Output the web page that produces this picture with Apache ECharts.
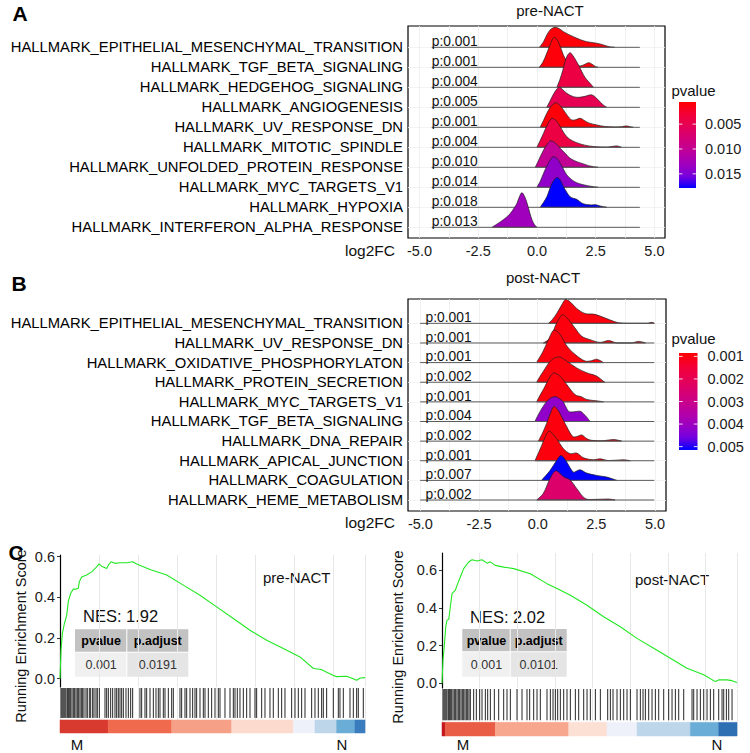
<!DOCTYPE html>
<html><head><meta charset="utf-8">
<script src="https://cdn.jsdelivr.net/npm/echarts@6/dist/echarts.min.js"></script>
<style>html,body{margin:0;padding:0;background:#fff}#c{width:750px;height:753px}</style>
</head><body><div id="c"></div>
<script>
const FONT = "'Liberation Sans', Arial, Helvetica, sans-serif";

// ---------- Panel A (pre-NACT ridges) ----------
const preNames = ['HALLMARK_EPITHELIAL_MESENCHYMAL_TRANSITION','HALLMARK_TGF_BETA_SIGNALING','HALLMARK_HEDGEHOG_SIGNALING','HALLMARK_ANGIOGENESIS','HALLMARK_UV_RESPONSE_DN','HALLMARK_MITOTIC_SPINDLE','HALLMARK_UNFOLDED_PROTEIN_RESPONSE','HALLMARK_MYC_TARGETS_V1','HALLMARK_HYPOXIA','HALLMARK_INTERFERON_ALPHA_RESPONSE'];
const prePvalues = [0.001,0.001,0.004,0.005,0.001,0.004,0.010,0.014,0.018,0.013];
const preFillP = [0.001,0.001,0.004,0.005,0.001,0.004,0.010,0.014,0.018,0.013];
const preLegendRange = [0.00055, 0.01785];
const preLegendTicks = [0.005, 0.010, 0.015];
const preLog2FCRange = [-4.48, 4.38];
// each ridge: [log2FC, density height in row units]
const preRidges = [
 [[0.11,0],[0.28,0.28],[0.42,0.62],[0.56,0.87],[0.68,0.97],[0.78,1.0],[0.95,0.93],[1.13,0.78],[1.35,0.64],[1.55,0.53],[1.85,0.38],[2.12,0.28],[2.4,0.23],[2.68,0.17],[2.9,0.09],[3.11,0.02],[3.3,0]],
 [[0.1,0],[0.25,0.25],[0.4,0.65],[0.55,1.1],[0.65,1.38],[0.73,1.5],[0.82,1.45],[0.95,1.15],[1.05,0.85],[1.13,0.6],[1.25,0.35],[1.4,0.18],[1.6,0.1],[1.85,0.07],[2.0,0.13],[2.2,0.23],[2.35,0.15],[2.5,0.03],[2.6,0]],
 [[0.85,0],[0.98,0.4],[1.1,0.85],[1.2,1.3],[1.3,1.6],[1.41,1.73],[1.52,1.6],[1.69,1.28],[1.84,0.95],[1.98,0.62],[2.12,0.38],[2.26,0.2],[2.4,0]],
 [[0.42,0],[0.55,0.3],[0.7,0.65],[0.85,0.92],[0.96,1.0],[1.1,0.88],[1.27,0.7],[1.55,0.53],[1.8,0.5],[2.05,0.55],[2.33,0.62],[2.54,0.45],[2.7,0.25],[2.82,0.12],[2.97,0]],
 [[0.14,0],[0.3,0.4],[0.42,0.7],[0.6,1.05],[0.82,1.23],[0.95,1.12],[1.13,0.87],[1.3,0.58],[1.48,0.37],[1.65,0.38],[1.84,0.45],[2.0,0.35],[2.2,0.22],[2.54,0.12],[2.9,0.04],[3.3,0.02],[3.6,0.03],[3.81,0.07],[4.0,0.02],[4.1,0]],
 [[0.0,0],[0.14,0.35],[0.28,0.7],[0.45,1.15],[0.64,1.45],[0.8,1.35],[0.99,1.03],[1.13,0.75],[1.27,0.53],[1.5,0.33],[1.84,0.17],[2.2,0.07],[2.5,0.03],[3.0,0.01],[3.39,0.07],[3.6,0]],
 [[-0.07,0],[0.07,0.35],[0.21,0.7],[0.4,1.1],[0.59,1.33],[0.8,1.2],[0.99,0.95],[1.2,0.7],[1.41,0.45],[1.7,0.28],[1.98,0.17],[2.2,0.08],[2.4,0.03],[2.6,0]],
 [[0.0,0],[0.14,0.3],[0.28,0.7],[0.48,1.2],[0.68,1.53],[0.85,1.45],[0.99,1.2],[1.13,0.9],[1.27,0.62],[1.48,0.38],[1.69,0.23],[2.0,0.12],[2.4,0.03],[2.6,0]],
 [[0.14,0],[0.28,0.25],[0.42,0.53],[0.64,1.2],[0.85,1.5],[1.0,1.35],[1.13,1.03],[1.27,0.75],[1.41,0.53],[1.55,0.45],[1.69,0.4],[1.9,0.22],[2.1,0.14],[2.33,0.12],[2.5,0.13],[2.68,0.07],[2.97,0]],
 [[-1.91,0],[-1.73,0.14],[-1.55,0.28],[-1.3,0.5],[-1.13,0.7],[-0.95,1.0],[-0.85,1.2],[-0.74,1.55],[-0.64,1.73],[-0.53,1.55],[-0.42,1.2],[-0.3,0.7],[-0.21,0.37],[-0.1,0.12],[0.0,0]]
];

// ---------- Panel B (post-NACT ridges) ----------
const postNames = ['HALLMARK_EPITHELIAL_MESENCHYMAL_TRANSITION','HALLMARK_UV_RESPONSE_DN','HALLMARK_OXIDATIVE_PHOSPHORYLATON','HALLMARK_PROTEIN_SECRETION','HALLMARK_MYC_TARGETS_V1','HALLMARK_TGF_BETA_SIGNALING','HALLMARK_DNA_REPAIR','HALLMARK_APICAL_JUNCTION','HALLMARK_COAGULATION','HALLMARK_HEME_METABOLISM'];
const postPvalues = [0.001,0.001,0.001,0.002,0.001,0.004,0.002,0.001,0.007,0.002];
const postFillP = [0.001,0.001,0.001,0.001,0.001,0.0042,0.001,0.001,0.0052,0.0024];
const postLegendRange = [0.00085, 0.00515];
const postLegendTicks = [0.001, 0.002, 0.003, 0.004, 0.005];
const postLog2FCRange = [-5.01, 4.97];
const postRidges = [
 [[0.46,0],[0.63,0.2],[0.81,0.5],[1.02,0.93],[1.19,1.22],[1.38,1.1],[1.66,0.76],[2.02,0.5],[2.38,0.47],[2.66,0.37],[3.09,0.17],[3.44,0.03],[3.9,0],[4.7,0],[4.86,0.05],[4.97,0]],
 [[0.24,0],[0.53,0.25],[0.81,1.02],[1.07,1.44],[1.31,1.19],[1.59,0.76],[1.88,0.34],[2.23,0.17],[2.66,0.03],[3.02,0.12],[3.37,0],[4.0,0],[4.3,0.08],[4.6,0]],
 [[-0.04,0],[0.24,0.6],[0.53,1.36],[0.7,1.66],[0.95,1.44],[1.24,0.85],[1.59,0.42],[2.02,0.08],[2.3,0.1],[2.52,0.17],[2.8,0]],
 [[-0.04,0],[0.24,0.56],[0.6,1.15],[0.92,1.29],[1.24,1.07],[1.66,0.73],[2.09,0.48],[2.52,0.31],[2.8,0.05],[2.87,0]],
 [[-0.04,0],[0.24,0.63],[0.67,1.48],[0.95,1.31],[1.24,0.88],[1.59,0.37],[1.88,0.25],[2.09,0.12],[2.66,0.03],[2.8,0]],
 [[-0.11,0],[0.17,0.65],[0.45,1.1],[0.74,1.27],[0.95,1.15],[1.1,0.98],[1.24,0.65],[1.35,0.5],[1.59,0.5],[1.81,0.52],[1.95,0.4],[2.09,0.22],[2.23,0]],
 [[0.03,0],[0.2,0.4],[0.38,0.9],[0.55,1.45],[0.7,1.78],[0.85,1.6],[0.95,1.41],[1.1,1.05],[1.24,0.73],[1.38,0.42],[1.52,0.22],[1.7,0.25],[1.88,0.31],[2.1,0.12],[2.3,0.04],[2.8,0.02],[3.23,0.08],[3.58,0]],
 [[-0.11,0],[0.17,0.78],[0.35,1.3],[0.48,1.51],[0.62,1.4],[0.81,1.12],[1.1,0.61],[1.38,0.36],[1.66,0.39],[1.95,0.15],[2.38,0.05],[2.66,0.1],[3.0,0.01],[3.66,0.05],[3.95,0]],
 [[0.17,0],[0.53,0.51],[0.81,1.02],[0.98,1.27],[1.1,1.18],[1.24,0.93],[1.52,0.42],[1.66,0.48],[1.81,0.54],[2.09,0.37],[2.52,0.25],[2.94,0.17],[3.3,0.03],[3.37,0]],
 [[-0.04,0],[0.24,0.34],[0.53,1.1],[0.78,1.49],[1.1,1.19],[1.38,1.02],[1.66,0.59],[2.02,0.08],[2.4,0.03],[3.02,0.05],[3.3,0]]
];
const log2FCTicks = [-5, -2.5, 0, 2.5, 5];
const log2FCGrid = [-5, -3.75, -2.5, -1.25, 0, 1.25, 2.5, 3.75, 5];

// ---------- Panel C (GSEA running enrichment) ----------
const preESRank  = [0,64,149,277,426,533,682,852,1000,1172,1236,1385,1705,2025,2344,2493,2664,2983,3090,3260,3516,3836,4262,4646,4901,5754,6819,7884,8950,10015,11081,12146,13212,14277,15343,16200,16700,17474,17687,18326,18752,18965,19200,19498];
const preESScore = [0,0.14,0.22,0.27,0.31,0.38,0.42,0.44,0.44,0.445,0.476,0.50,0.51,0.525,0.55,0.564,0.553,0.542,0.558,0.575,0.567,0.57,0.57,0.575,0.564,0.537,0.51,0.46,0.41,0.353,0.296,0.238,0.189,0.148,0.107,0.05,0.045,0.016,0.01,0.012,0,-0.008,0.003,0.005];
const postESRank  = [0,66,155,250,332,450,553,664,886,1041,1218,1440,1772,1993,2325,2657,2989,3211,3543,4097,4761,5868,6975,7640,8526,9633,10740,11847,12955,14062,15169,16276,17384,18159,18380,18934,19266,19598];
const postESScore = [0,0.123,0.2,0.3,0.335,0.34,0.405,0.476,0.494,0.529,0.564,0.609,0.644,0.656,0.649,0.656,0.638,0.645,0.626,0.617,0.609,0.582,0.529,0.503,0.467,0.414,0.353,0.300,0.238,0.185,0.132,0.079,0.044,0.008,0.017,0.017,0.013,0.003];
const esTicks = [0, 0.2, 0.4, 0.6];
const preGeneCount = 19500, postGeneCount = 19600;
const preHits = [64,128,192,256,320,384,469,533,597,682,767,852,938,1023,1108,1193,1279,1364,1449,1534,1662,1747,1875,1961,2088,2174,2301,2387,2515,2877,2983,3090,3239,3367,3516,3623,3729,3836,3942,4049,4219,4369,4518,4646,5114,5221,5434,5541,5754,5967,6137,6286,6393,6606,6713,6926,7139,7245,7672,7778,7991,8098,8311,8481,8631,8737,8950,9163,9270,9483,9696,9909,10122,10229,10548,10868,11081,11188,11337,11507,11720,11934,12147,12466,12573,12893,13106,13425,13638,13958,14171,14384,14810,15024,15237,15450,15663,16089,16302,16515,16728,16835,17048,17474,17794,17900,18114,18540,18753,18966,19072,19392];
const postHits = [66,133,199,266,332,421,487,554,642,731,820,908,997,1085,1174,1263,1351,1440,1528,1617,1706,1794,1883,2104,2281,2503,2658,2880,3035,3212,3477,3766,4098,4319,4541,4984,5316,5648,5825,6091,6313,6534,6977,7199,7376,7531,7686,7863,8085,8306,8528,8860,9082,9414,9636,9857,10190,10521,11009,11186,11363,11629,11850,12072,12293,12515,12958,13179,13356,13512,13733,13955,14176,14398,14730,15062,15284,15505,15727,16059,16613,16724,16945,17166,17388,17609,17831,18052,18385,18606,18717,18894,19049,19270];
// ranked-list metric heat strip: segment breaks (rank) and metric level
const preStripBreaks = [0,3090,7139,10975,14917,16302,17687,18860,19500];
const preStripLevel  = [0.8,0.6,0.42,0.22,0,-0.2,-0.5,-0.8];
const postStripBreaks = [0,221,3544,8417,10964,12958,16502,18385,19600];
const postStripLevel  = [1.0,0.66,0.4,0.2,0,-0.2,-0.5,-0.95];
const preStats  = {nes:'1.92', pvalue:'0.001', padj:'0.0191'};
const postStats = {nes:'2.02', pvalue:'0.001', padj:'0.0101'};

// ---------- styling helpers ----------
const PCOLORS = ['#FF0000','#F40031','#E8004F','#DA006D','#CA0089','#B400A8','#9A00C3','#7200E0','#0000FF'];
const STRIP_STOPS = [[1.0,'#C4161C'],[0.8,'#D93A30'],[0.6,'#F06A4E'],[0.4,'#F7A78D'],[0.2,'#FCE0D4'],[0,'#EEF1FA'],[-0.2,'#BED6EA'],[-0.5,'#6AADD6'],[-0.8,'#3A7DBE'],[-1.0,'#2A6AB0']];
function hex(h){return [parseInt(h.slice(1,3),16),parseInt(h.slice(3,5),16),parseInt(h.slice(5,7),16)];}
function mix(a,b,u){const A=hex(a),B=hex(b);return 'rgb('+A.map((v,k)=>Math.round(v+(B[k]-v)*u)).join(',')+')';}
function pColor(p, range){
  let t=(p-range[0])/(range[1]-range[0]); t=Math.max(0,Math.min(1,t));
  const n=PCOLORS.length-1, f=t*n, i=Math.min(Math.floor(f),n-1);
  return mix(PCOLORS[i],PCOLORS[i+1],f-i);
}
function stripColor(v){
  for(let i=0;i<STRIP_STOPS.length-1;i++){
    const a=STRIP_STOPS[i],b=STRIP_STOPS[i+1];
    if(v<=a[0]&&v>=b[0]) return mix(a[1],b[1],(a[0]-v)/(a[0]-b[0]));
  }
  return v>0?STRIP_STOPS[0][1]:STRIP_STOPS[STRIP_STOPS.length-1][1];
}
function txtStyle(text,size,color,align,valign,weight){
  const w=weight||'normal';
  return {text:text, fill:color, textFill:color, font:w+' '+size+'px '+FONT, fontSize:size, fontFamily:FONT, fontWeight:w,
          align:align, verticalAlign:valign, textAlign:align, textVerticalAlign:valign};
}

function ridgeSeries(idx, ridges, fillP, range, xr){
  return {
    type:'custom', xAxisIndex:idx, yAxisIndex:idx, silent:true, animation:false, clip:false,
    data: ridges.map((r,i)=>[0, 9-i]),
    renderItem: function(params, api){
      const i=params.dataIndex, base=9-i;
      const pts=ridges[i].map(p=>api.coord([p[0], base+p[1]]));
      let minx=Infinity,maxx=-Infinity,miny=Infinity,maxy=-Infinity;
      pts.forEach(p=>{minx=Math.min(minx,p[0]);maxx=Math.max(maxx,p[0]);miny=Math.min(miny,p[1]);maxy=Math.max(maxy,p[1]);});
      const b0=api.coord([xr[0],base]), b1=api.coord([xr[1],base]);
      return {type:'group', children:[
        {type:'polygon', shape:{points:pts, smooth:0.35, smoothConstraint:[[minx,miny],[maxx,maxy]]},
         style:{fill:pColor(fillP[i],range), stroke:'#1e1e1e', lineWidth:0.7}},
        {type:'line', shape:{x1:b0[0],y1:b0[1],x2:b1[0],y2:b1[1]}, style:{stroke:'#5a5a5a', lineWidth:1}}
      ]};
    }
  };
}
function pLabelSeries(idx, pvals, xStart){
  return {
    type:'custom', xAxisIndex:idx, yAxisIndex:idx, silent:true, animation:false, clip:false,
    data: pvals.map((p,i)=>[xStart, 9-i+0.29]),
    renderItem: function(params, api){
      const c=api.coord([api.value(0), api.value(1)]);
      return {type:'text', x:c[0], y:c[1], style:txtStyle('p:'+pvals[params.dataIndex].toFixed(3),13.8,'#111','left','middle')};
    }
  };
}
function legendSeries(idx, ticks){
  return {
    type:'custom', xAxisIndex:idx, yAxisIndex:idx, silent:true, animation:false, clip:false,
    data:[[0.5, ticks[0]]],
    renderItem: function(params, api){
      const cs=params.coordSys;
      const grad=new echarts.graphic.LinearGradient(0,0,0,1, PCOLORS.map((c,k)=>({offset:k/(PCOLORS.length-1), color:c})));
      const ch=[{type:'rect', shape:{x:cs.x,y:cs.y,width:cs.width,height:cs.height}, style:{fill:grad}}];
      ticks.forEach(v=>{
        const y=api.coord([0,v])[1];
        ch.push({type:'line', shape:{x1:cs.x,y1:y,x2:cs.x+cs.width*0.2,y2:y}, style:{stroke:'rgba(255,255,255,0.85)',lineWidth:1}});
        ch.push({type:'line', shape:{x1:cs.x+cs.width*0.8,y1:y,x2:cs.x+cs.width,y2:y}, style:{stroke:'rgba(255,255,255,0.85)',lineWidth:1}});
      });
      return {type:'group', children:ch};
    }
  };
}
function rugSeries(idx, hits){
  return {
    type:'custom', xAxisIndex:idx, yAxisIndex:idx, silent:true, animation:false,
    data: hits.map(h=>[h,0.66]),
    renderItem: function(params, api){
      const a=api.coord([api.value(0),1]), b=api.coord([api.value(0),0.335]);
      return {type:'line', shape:{x1:a[0],y1:a[1],x2:b[0],y2:b[1]}, style:{stroke:'rgba(0,0,0,0.85)', lineWidth:1}};
    }
  };
}
function stripSeries(idx, breaks, levels){
  return {
    type:'custom', xAxisIndex:idx, yAxisIndex:idx, silent:true, animation:false,
    data: levels.map((l,i)=>[breaks[i], breaks[i+1], l]),
    renderItem: function(params, api){
      const a=api.coord([api.value(0),0.29]), b=api.coord([api.value(1),0]);
      const col=stripColor(api.value(2));
      return {type:'rect', shape:{x:a[0],y:a[1],width:b[0]-a[0],height:b[1]-a[1]}, style:{fill:col, stroke:col, lineWidth:0.5}};
    }
  };
}

function ridgeX(idx, min, max){
  return {gridIndex:idx, type:'value', min:min, max:max,
    axisLine:{show:false}, axisTick:{show:false, customValues:log2FCGrid},
    splitLine:{show:true, lineStyle:{color:'#EDEDED', width:0.8}},
    axisLabel:{customValues:log2FCTicks, formatter:v=>Number(v).toFixed(1), fontSize:14.5, fontFamily:FONT, color:'#1a1a1a', margin:5}};
}
function ridgeY(idx, min, max, names){
  const vals=[0,1,2,3,4,5,6,7,8,9];
  return {gridIndex:idx, type:'value', min:min, max:max,
    axisLine:{show:false}, axisTick:{show:false, customValues:vals},
    splitLine:{show:true, lineStyle:{color:'#F0F0F0', width:0.8}},
    axisLabel:{customValues:vals, formatter:v=>names[9-Math.round(v)], fontSize:14.8, fontFamily:FONT, color:'#000', margin:5}};
}
function legendY(idx, range, ticks, margin){
  return {gridIndex:idx, type:'value', min:range[0], max:range[1], inverse:true, position:'right',
    axisLine:{show:false}, axisTick:{show:false}, splitLine:{show:false},
    axisLabel:{customValues:ticks, formatter:v=>Number(v).toFixed(3), fontSize:14.5, fontFamily:FONT, color:'#1a1a1a', margin:margin}};
}
function hiddenX(idx, min, max, grid){
  return {gridIndex:idx, type:'value', min:min, max:max, interval:grid?2500:undefined,
    axisLine:{show:false}, axisTick:{show:false}, axisLabel:{show:false},
    splitLine:{show:!!grid, lineStyle:{color:'#E8E8E8', width:1}}};
}
function esY(idx, min, max){
  return {gridIndex:idx, type:'value', min:min, max:max,
    axisLine:{show:true, lineStyle:{color:'#000', width:1.2}},
    axisTick:{show:true, customValues:esTicks, length:3, lineStyle:{color:'#333'}},
    splitLine:{show:false},
    axisLabel:{customValues:esTicks, formatter:v=>Number(v).toFixed(1), fontSize:14.5, fontFamily:FONT, color:'#1a1a1a', margin:5}};
}

// ---------- graphic annotations ----------
const G=[];
function T(x,y,text,size,opts){opts=opts||{};G.push({type:'text', x:x, y:y, rotation:opts.rot||0, silent:true,
  style:txtStyle(text,size,opts.color||'#111',opts.align||'center',opts.valign||'middle',opts.weight)});}
function R(x,y,w,h,fill){G.push({type:'rect', silent:true, shape:{x:x,y:y,width:w,height:h}, style:{fill:fill}});}
function table(x0,x1,x2,y0,y1,y2,st){
  const g=1;
  R(x0,y0,x1-x0-g,y1-y0-g,'#C2C2C2'); R(x1,y0,x2-x1,y1-y0-g,'#C2C2C2');
  R(x0,y1,x1-x0-g,y2-y1,'#F0F0F0'); R(x1,y1,x2-x1,y2-y1,'#E5E5E5');
  T((x0+x1)/2,(y0+y1)/2,'pvalue',12.5,{weight:'bold', color:'#000'}); T((x1+x2)/2,(y0+y1)/2,'p.adjust',12.5,{weight:'bold', color:'#000'});
  T((x0+x1)/2,(y1+y2)/2,st.pvalue,12.5,{color:'#333'}); T((x1+x2)/2,(y1+y2)/2,st.padj,12.5,{color:'#333'});
}
T(20,13,'A',21,{weight:'bold', color:'#000'});
T(19,283,'B',21,{weight:'bold', color:'#000'});
T(16,552,'C',21,{weight:'bold', color:'#000'});
T(550,10,'pre-NACT',15);
T(543,277,'post-NACT',15);
T(395,250,'log2FC',15.5,{align:'right'});
T(395,522,'log2FC',15.5,{align:'right'});
T(693.5,90,'pvalue',15);
T(693.5,338,'pvalue',15);
T(21,636,'Running Enrichment Score',14.5,{rot:Math.PI/2});
T(398,637,'Running Enrichment Score',14.5,{rot:Math.PI/2});
T(263,577,'pre-NACT',15,{align:'left'});
T(635,579,'post-NACT',15,{align:'left'});
T(83,616,'NES: '+preStats.nes,16.5,{align:'left'});
T(470,617,'NES: '+postStats.nes,16.5,{align:'left'});
table(75,127.3,188.3,629.3,652.7,676.7,preStats);
table(462.3,510.7,566.7,629,652.3,676.7,postStats);
T(77,744,'M',15); T(342,744,'N',15);
T(463,744,'M',15); T(717,744,'N',15);

const chart = echarts.init(document.getElementById('c'), null, {renderer:'svg', width:750, height:753});
chart.setOption({
  animation:false,
  backgroundColor:'#fff',
  textStyle:{fontFamily:FONT},
  grid:[
    {left:408, top:26, width:257, height:212, show:true, borderColor:'#000', borderWidth:1.2, backgroundColor:'#fff', outerBoundsMode:'none'},
    {left:408, top:299, width:258, height:212, show:true, borderColor:'#000', borderWidth:1.2, backgroundColor:'#fff', outerBoundsMode:'none'},
    {left:679, top:102, width:17, height:86, outerBoundsMode:'none'},
    {left:679, top:353, width:18.5, height:97, outerBoundsMode:'none'},
    {left:60, top:555, width:305, height:132, outerBoundsMode:'none'},
    {left:60, top:688, width:305, height:45, outerBoundsMode:'none'},
    {left:442, top:553, width:295, height:135, outerBoundsMode:'none'},
    {left:442, top:689, width:295, height:47, outerBoundsMode:'none'}
  ],
  xAxis:[
    ridgeX(0,-5.49,5.45),
    ridgeX(1,-5.53,5.47),
    {gridIndex:2, type:'value', min:0, max:1, show:false},
    {gridIndex:3, type:'value', min:0, max:1, show:false},
    hiddenX(4,0,preGeneCount,true),
    hiddenX(5,0,preGeneCount,true),
    hiddenX(6,0,postGeneCount,true),
    hiddenX(7,0,postGeneCount,true)
  ],
  yAxis:[
    ridgeY(0,-0.535,10.065,preNames),
    ridgeY(1,-0.56,10.24,postNames),
    legendY(2,preLegendRange,preLegendTicks,9),
    legendY(3,postLegendRange,postLegendTicks,10),
    esY(4,-0.041,0.608),
    {gridIndex:5, type:'value', min:0, max:1, show:false},
    esY(6,-0.026,0.692),
    {gridIndex:7, type:'value', min:0, max:1, show:false}
  ],
  series:[
    ridgeSeries(0, preRidges, preFillP, preLegendRange, preLog2FCRange),
    pLabelSeries(0, prePvalues, -4.48),
    ridgeSeries(1, postRidges, postFillP, postLegendRange, postLog2FCRange),
    pLabelSeries(1, postPvalues, -4.78),
    legendSeries(2, preLegendTicks),
    legendSeries(3, postLegendTicks),
    {type:'line', xAxisIndex:4, yAxisIndex:4, data:preESRank.map((r,i)=>[r,preESScore[i]]), symbol:'none', showSymbol:false, silent:true,
     lineStyle:{color:'#22E822', width:1.1}},
    rugSeries(5, preHits),
    stripSeries(5, preStripBreaks, preStripLevel),
    {type:'line', xAxisIndex:6, yAxisIndex:6, data:postESRank.map((r,i)=>[r,postESScore[i]]), symbol:'none', showSymbol:false, silent:true,
     lineStyle:{color:'#22E822', width:1.1}},
    rugSeries(7, postHits),
    stripSeries(7, postStripBreaks, postStripLevel)
  ],
  graphic:{elements:G}
});
</script></body></html>
